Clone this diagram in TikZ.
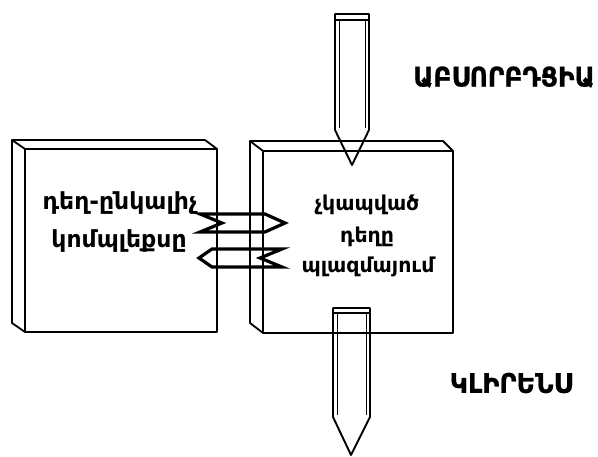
\documentclass[tikz,border=0pt]{standalone}
\usepackage{fontspec}
\setmainfont{DejaVu Sans}
\newfontfamily\heavyfont{DejaVu Sans Bold}
\newfontfamily\labelfont{DejaVu Sans Bold}[FakeBold=0.8]
\newcommand{\narrow}[2]{\scalebox{#1}[1]{#2}}
\begin{document}
\begin{tikzpicture}[x=1pt,y=-1pt,
  edge/.style={line width=1.8pt, line join=round},
  pin/.style={line width=1.9pt, line join=round},
  inpin/.style={line width=1pt},
  conn/.style={line width=3.2pt, line join=miter, miter limit=20},
  lbl/.style={font=\heavyfont\fontsize{23.5}{27}\selectfont, inner sep=0pt},
  rlbl/.style={font=\heavyfont\fontsize{20.5}{24}\selectfont, inner sep=0pt},
  big/.style={font=\labelfont\fontsize{27}{31}\selectfont, inner sep=0pt}]
\useasboundingbox (0,0) rectangle (598,457);
% left slab
\draw[edge] (12,140) -- (205,140) -- (217,149) -- (25,149) -- cycle;
\draw[edge] (12,140) -- (12,323) -- (25,332) -- (25,149);
\draw[edge] (25,149) rectangle (217,332);
% right slab
\draw[edge] (250,141) -- (443,141) -- (453,151) -- (263,151) -- cycle;
\draw[edge] (250,141) -- (250,323) -- (263,333) -- (263,151);
\draw[edge] (263,151) rectangle (453,333);
% top pin
\draw[pin] (335,14) -- (369,14) -- (369,130) -- (352,165) -- (335,130) -- cycle;
\draw[pin] (335,20) -- (369,20);
\draw[inpin] (339,20) -- (339,128);
\draw[inpin] (365,20) -- (365,128);
% bottom pin
\draw[pin] (333,308) -- (370,308) -- (370,417) -- (351,455) -- (333,417) -- cycle;
\draw[pin] (333,313) -- (370,313);
\draw[inpin] (337,313) -- (337,415);
\draw[inpin] (366,313) -- (366,415);
% connectors
\draw[conn] (265,214) -- (200,214) -- (222,223) -- (200,232) -- (265,232) -- (285,223) -- cycle;
\draw[conn] (212,249) -- (282,249) -- (260,258) -- (282,267) -- (212,267) -- (199,258) -- cycle;
% texts
\node[lbl] (t1) at (120,203) {դեղ-ընկալիչ};
\node[lbl] (t2) at (119,241) {կոմպլեքսը};
\node[rlbl] (r1) at (367,205) {չկապված};
\node[rlbl] (r2) at (367,237) {դեղը};
\node[rlbl] (r3) at (368,267) {պլազմայում};
\node[big] (absorb) at (504,77) {\narrow{0.92}{ԱԲՍՈՐԲԴՑԻԱ}};
\node[big] (clear) at (511,383) {\narrow{0.95}{ԿԼԻՐԵՆՍ}};
\end{tikzpicture}
\end{document}
